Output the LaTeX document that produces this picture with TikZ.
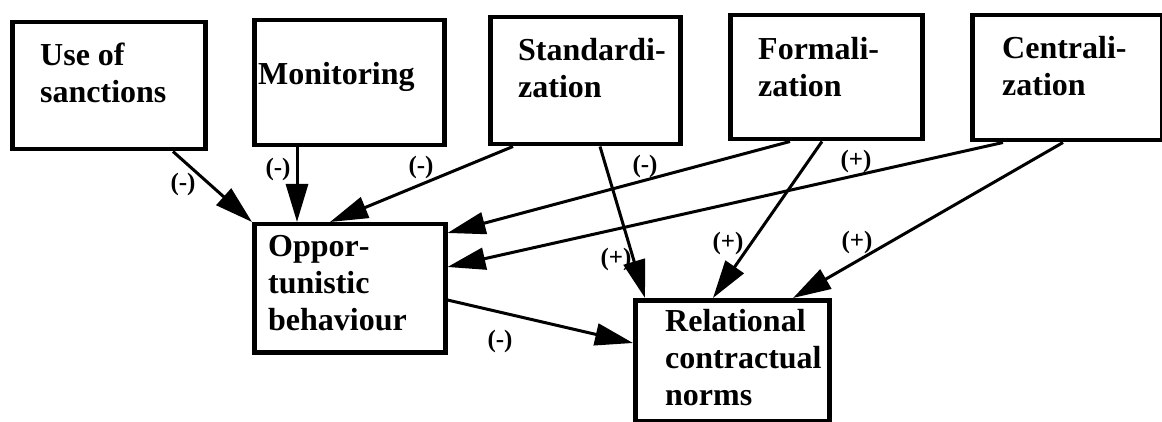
\documentclass[tikz,border=0pt]{standalone}
\usepackage{fontspec}
\setmainfont{Liberation Serif}
\usetikzlibrary{arrows.meta}
\tikzset{
  x=1pt, y=-1pt,
  box/.style={draw, line width=4.5pt, rectangle, inner sep=0pt, anchor=north west},
  txt/.style={inner sep=0pt, anchor=base west, align=left, font=\fontsize{32}{37}\selectfont\bfseries},
  conn/.style={line width=3pt, -{Triangle[length=38pt,width=22pt]}},
  sgn/.style={inner sep=0pt, font=\fontsize{25}{27}\selectfont\bfseries},
}
\newcommand{\hy}{\mbox{-}}
\begin{document}
\begin{tikzpicture}
\useasboundingbox (0,0) rectangle (1162,422);
% boxes
\node[box, minimum width=193pt, minimum height=127pt] (san) at (10,20) {};
\node[box, minimum width=190pt, minimum height=125pt] (mon) at (252,18) {};
\node[box, minimum width=190pt, minimum height=127pt] (std) at (488,15) {};
\node[box, minimum width=192pt, minimum height=124pt] (frm) at (728,13) {};
\node[box, minimum width=190pt, minimum height=125pt] (cen) at (970,13) {};
\node[box, minimum width=191pt, minimum height=128pt] (opp) at (252,222) {};
\node[box, minimum width=194pt, minimum height=121pt] (rel) at (633,298) {};
% texts (anchored at the baseline of their last line)
\node[txt] (tsan) at (40,103) {Use of\\sanctions};
\node[txt] (tmon) at (258,85) {Monitoring};
\node[txt] (tstd) at (518,98) {Standardi\hy\\zation};
\node[txt] (tfrm) at (758,97) {Formali\hy\\zation};
\node[txt] (tcen) at (1002,96) {Centrali\hy\\zation};
\node[txt] (topp) at (268,330) {Oppor\hy\\tunistic\\behaviour};
\node[txt] (trel) at (665,405) {Relational\\contractual\\norms};
% connectors
\draw[conn] ([shift={(163,0)}]san.south west) -- (opp.north west);
\draw[conn] ([shift={(45,0)}]mon.south west) -- ([shift={(45,0)}]opp.north west);
\draw[conn] ([shift={(25,0)}]std.south west) -- ([shift={(78,0)}]opp.north west);
\draw[conn] ([shift={(112,0)}]std.south west) -- ([shift={(12,0)}]rel.north west);
\draw[conn] ([shift={(62,0)}]frm.south west) -- ([shift={(0,11)}]opp.north east);
\draw[conn] ([shift={(94,0)}]frm.south west) -- ([shift={(80,0)}]rel.north west);
\draw[conn] ([shift={(33,0)}]cen.south west) -- ([shift={(0,45)}]opp.north east);
\draw[conn] ([shift={(93,0)}]cen.south west) -- ([shift={(160,0)}]rel.north west);
\draw[conn] ([shift={(0,78)}]opp.north east) -- ([shift={(0,45)}]rel.north west);
% signs
\node[sgn] (s1) at (183,184) {(-)};
\node[sgn] (s2) at (278,169) {(-)};
\node[sgn] (s3) at (421,167) {(-)};
\node[sgn] (s4) at (616,259) {(+)};
\node[sgn] (s5) at (645,166) {(-)};
\node[sgn] (s6) at (728,243) {(+)};
\node[sgn] (s7) at (856,161) {(+)};
\node[sgn] (s8) at (857,242) {(+)};
\node[sgn] (s9) at (500,341) {(-)};
\end{tikzpicture}
\end{document}
